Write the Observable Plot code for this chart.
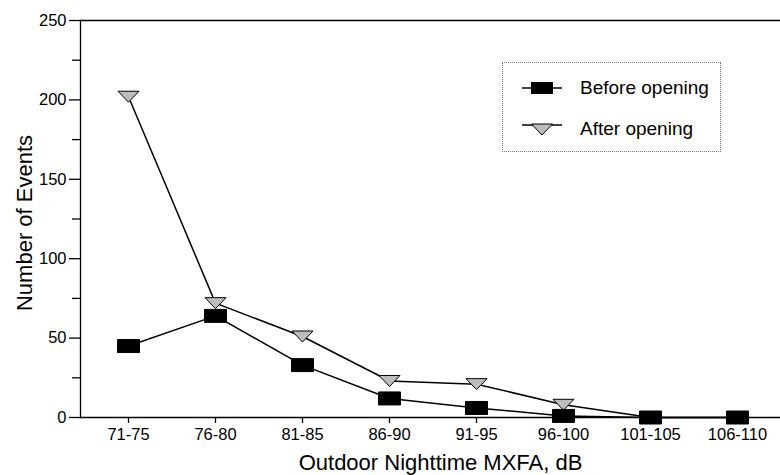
<!DOCTYPE html>
<html>
<head>
<meta charset="utf-8">
<script src="https://cdn.jsdelivr.net/npm/d3@7"></script>
<script src="https://cdn.jsdelivr.net/npm/@observablehq/plot@0.6"></script>
<style>
  html, body { margin: 0; padding: 0; background: #fff; }
  #wrap { position: relative; width: 780px; height: 475px; font-family: "Liberation Sans", Arial, sans-serif; }
  #legend { position: absolute; left: 502px; top: 62px; width: 217px; height: 88px; border: 1px dotted #777; background: #fff; }
  .item { position: absolute; left: 18px; display: flex; align-items: center; font-size: 19px; color: #000; }
  .item svg { margin-right: 17px; }
</style>
</head>
<body>
<div id="wrap"></div>
<script>
const categories = ["71-75", "76-80", "81-85", "86-90", "91-95", "96-100", "101-105", "106-110"];
const beforeOpening = [45, 64, 33, 12, 6, 1, 0, 0];
const afterOpening = [202, 72, 51, 23, 21, 8, 0, 0];
const yMajorTicks = [0, 50, 100, 150, 200, 250];
const yMinorTicks = [25, 75, 125, 175, 225];
const seriesNames = ["Before opening", "After opening"];

const rows = [];
categories.forEach((c, i) => {
  rows.push({cat: c, value: beforeOpening[i], series: seriesNames[0]});
  rows.push({cat: c, value: afterOpening[i], series: seriesNames[1]});
});
const before = rows.filter(d => d.series === seriesNames[0]);
const after = rows.filter(d => d.series === seriesNames[1]);

const rectSymbol = {draw(ctx) { ctx.rect(-11, -6.5, 22, 13); }};
const triSymbol = {draw(ctx) { ctx.moveTo(-10.5, -5.5); ctx.lineTo(10.5, -5.5); ctx.lineTo(0, 5.5); ctx.closePath(); }};

const chart = Plot.plot({
  width: 780,
  height: 475,
  marginTop: 20,
  marginBottom: 58,
  marginLeft: 80,
  marginRight: 0,
  style: {fontFamily: "'Liberation Sans', Arial, sans-serif", fontSize: "16px", color: "#000", background: "#fff"},
  x: {type: "point", domain: categories, range: [81, 784], padding: 0.5},
  y: {domain: [0, 250]},
  marks: [
    Plot.ruleY([0, 250], {stroke: "#000", strokeWidth: 1.3}),
    Plot.frame({anchor: "left", stroke: "#000", strokeWidth: 1.3}),
    Plot.axisY({ticks: yMajorTicks, tickSize: 11, tickPadding: 3, fontSize: 16.5, label: null, strokeWidth: 1.3}),
    Plot.axisY({ticks: yMinorTicks, tickSize: 8, tickFormat: () => "", label: null, strokeWidth: 1.3}),
    Plot.axisX({tickSize: 6, tickPadding: 5, fontSize: 16.5, label: null, strokeWidth: 1.3}),
    Plot.text(["Outdoor Nighttime MXFA, dB"], {frameAnchor: "bottom", textAnchor: "middle", dy: 52, dx: 10, fontSize: 22}),
    Plot.text(["Number of Events"], {frameAnchor: "left", textAnchor: "middle", rotate: -90, dx: -56, dy: 4, fontSize: 22}),
    Plot.line(before, {x: "cat", y: "value", stroke: "#000", strokeWidth: 1.5}),
    Plot.line(after, {x: "cat", y: "value", stroke: "#000", strokeWidth: 1.5}),
    Plot.dot(after, {x: "cat", y: "value", symbol: triSymbol, fill: "#bdbdbd", stroke: "#000", strokeWidth: 1}),
    Plot.dot(before, {x: "cat", y: "value", symbol: rectSymbol, fill: "#000", stroke: "#000", strokeWidth: 1})
  ]
});

const wrap = document.getElementById("wrap");
wrap.appendChild(chart);

const legend = document.createElement("div");
legend.id = "legend";
legend.innerHTML = `
  <div class="item" style="top:14px">
    <svg width="42" height="16"><line x1="1" y1="8" x2="41" y2="8" stroke="#000" stroke-width="1.5"/><rect x="10" y="2" width="22" height="12" fill="#000"/></svg>
    <span>${seriesNames[0]}</span>
  </div>
  <div class="item" style="top:55px">
    <svg width="42" height="16"><line x1="1" y1="4" x2="41" y2="4" stroke="#000" stroke-width="1.5"/><path d="M10.5,3 L31.5,3 L21,14 Z" fill="#bdbdbd" stroke="#000" stroke-width="1"/></svg>
    <span>${seriesNames[1]}</span>
  </div>`;
wrap.appendChild(legend);
</script>
</body>
</html>
